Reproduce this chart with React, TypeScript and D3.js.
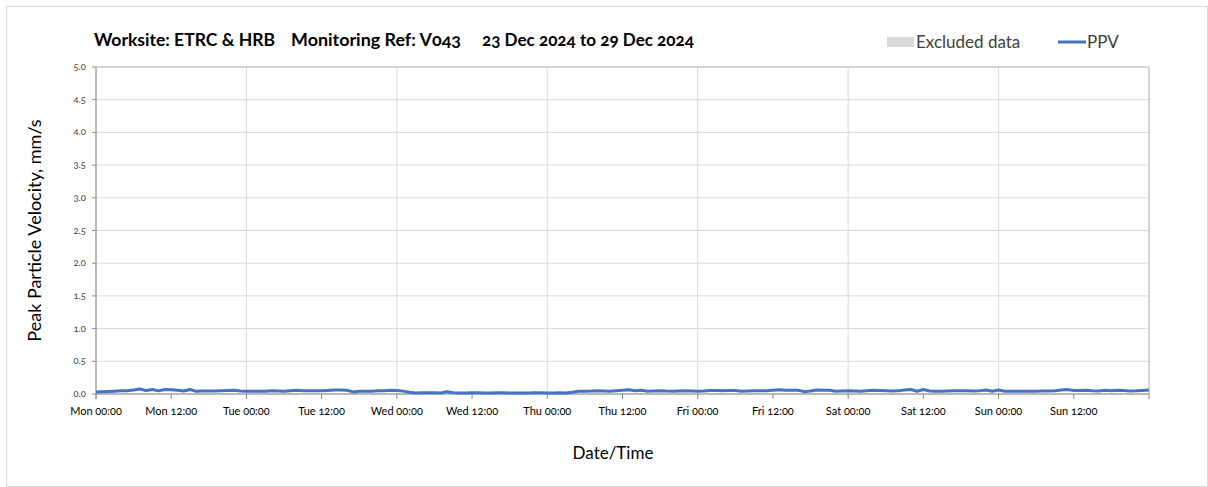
import React from 'react';
import * as d3 from 'd3';

// Hourly peak particle velocity (mm/s), Mon 23 Dec 2024 00:00 onwards
const monValues = [0.03, 0.035, 0.04, 0.043, 0.048, 0.051, 0.06, 0.076, 0.052, 0.068, 0.048, 0.07, 0.065, 0.056, 0.046, 0.068, 0.041, 0.046, 0.046, 0.045, 0.048, 0.053, 0.058, 0.045];
const tueValues = [0.043, 0.041, 0.041, 0.043, 0.051, 0.046, 0.041, 0.05, 0.056, 0.051, 0.051, 0.051, 0.051, 0.055, 0.061, 0.061, 0.058, 0.032, 0.041, 0.041, 0.043, 0.05, 0.051, 0.056];
const wedValues = [0.055, 0.044, 0.028, 0.016, 0.018, 0.019, 0.018, 0.016, 0.036, 0.021, 0.014, 0.016, 0.019, 0.018, 0.016, 0.016, 0.019, 0.019, 0.017, 0.015, 0.014, 0.016, 0.018, 0.019];
const thuValues = [0.016, 0.014, 0.018, 0.016, 0.028, 0.043, 0.043, 0.045, 0.051, 0.046, 0.043, 0.05, 0.056, 0.066, 0.051, 0.056, 0.043, 0.046, 0.048, 0.044, 0.043, 0.045, 0.048, 0.047];
const friValues = [0.043, 0.046, 0.052, 0.054, 0.048, 0.052, 0.054, 0.041, 0.046, 0.051, 0.051, 0.051, 0.058, 0.065, 0.057, 0.056, 0.056, 0.036, 0.045, 0.061, 0.058, 0.056, 0.043, 0.045];
const satValues = [0.048, 0.046, 0.043, 0.05, 0.056, 0.052, 0.048, 0.044, 0.048, 0.062, 0.068, 0.042, 0.068, 0.045, 0.042, 0.041, 0.046, 0.051, 0.05, 0.048, 0.044, 0.05, 0.06, 0.041];
const sunValues = [0.06, 0.043, 0.042, 0.041, 0.041, 0.042, 0.043, 0.045, 0.047, 0.05, 0.06, 0.067, 0.053, 0.052, 0.056, 0.048, 0.046, 0.056, 0.051, 0.058, 0.052, 0.044, 0.048, 0.055];
const endValue = [0.061];

const yTicks = [0, 0.5, 1, 1.5, 2, 2.5, 3, 3.5, 4, 4.5, 5];
const titleParts = ['Worksite: ETRC & HRB', 'Monitoring Ref: V043', '23 Dec 2024 to 29 Dec 2024'];
const legendLabels = ['Excluded data', 'PPV'];

const start = Date.UTC(2024, 11, 23, 0, 0);
const HOUR = 3600 * 1000;

const ppv = [...monValues, ...tueValues, ...wedValues, ...thuValues, ...friValues, ...satValues, ...sunValues, ...endValue]
  .map((v, i) => ({ t: new Date(start + i * HOUR), v }));

const W = 1208;
const H = 487;
const margin = { left: 96, right: 59, top: 67, bottom: 93 };
const font = "'Lato', 'Open Sans', sans-serif";

export default function App() {
  const x = d3.scaleUtc()
    .domain([new Date(start), new Date(start + 168 * HOUR)])
    .range([margin.left, W - margin.right]);
  const y = d3.scaleLinear().domain([0, 5]).range([H - margin.bottom, margin.top]);

  const dayTicks = d3.utcHour.every(24)!.range(new Date(start), new Date(start + 168 * HOUR + 1));
  const halfTicks = d3.utcHour.every(12)!.range(new Date(start), new Date(start + 168 * HOUR + 1));
  const fmt = d3.utcFormat('%a %H:%M');

  const line = d3.line<{ t: Date; v: number }>()
    .x(d => x(d.t))
    .y(d => y(d.v));

  const x0 = margin.left;
  const x1 = W - margin.right;
  const y0 = H - margin.bottom;
  const yTop = margin.top;

  return (
    <svg width={W} height={H} style={{ position: 'absolute', left: 0, top: 0, fontFamily: font, fontVariantNumeric: 'oldstyle-nums' }}>
      <rect x={0} y={0} width={W} height={H} fill="white" />
      <rect x={6.5} y={6.5} width={W - 7} height={H - 7} fill="none" stroke="#d9d9d9" />

      {/* title */}
      <g fontWeight="bold" fontSize={16.5} fill="#000">
        <text x={94} y={46} textLength={181} lengthAdjust="spacingAndGlyphs">{titleParts[0]}</text>
        <text x={291} y={46} textLength={170} lengthAdjust="spacingAndGlyphs">{titleParts[1]}</text>
        <text x={482} y={46} textLength={212} lengthAdjust="spacingAndGlyphs">{titleParts[2]}</text>
      </g>

      {/* legend */}
      <rect x={887} y={37} width={27} height={10} fill="#d9d9d9" />
      <text x={916} y={48} fontSize={17} fill="#404040">{legendLabels[0]}</text>
      <line x1={1058} x2={1086} y1={42} y2={42} stroke="#4472c4" strokeWidth={3} />
      <text x={1087} y={48} fontSize={17} fill="#404040">{legendLabels[1]}</text>

      {/* horizontal grid */}
      {yTicks.map(t => (
        <g key={t}>
          <line x1={x0} x2={x1} y1={y(t)} y2={y(t)} stroke="#d9d9d9" strokeWidth={1} />
          <line x1={x0 - 4} x2={x0} y1={y(t)} y2={y(t)} stroke="#868686" />
          <text x={x0 - 10} y={y(t) + 3} textAnchor="end" fontSize={9.5} fill="#404040">
            {d3.format('.1f')(t)}
          </text>
        </g>
      ))}

      {/* vertical day grid */}
      {dayTicks.map(d => (
        <line key={+d} x1={x(d)} x2={x(d)} y1={yTop} y2={y0} stroke="#d9d9d9" />
      ))}

      {/* axes */}
      <line x1={x0} x2={x0} y1={yTop} y2={y0 + 5} stroke="#868686" />
      <line x1={x0} x2={x1} y1={y0} y2={y0} stroke="#868686" />
      <line x1={x1} x2={x1} y1={yTop} y2={y0} stroke="#bfbfbf" />
      <line x1={x0} x2={x1} y1={yTop} y2={yTop} stroke="#bfbfbf" />
      {halfTicks.map(d => (
        <line key={+d} x1={x(d)} x2={x(d)} y1={y0} y2={y0 + 5} stroke="#868686" />
      ))}
      {halfTicks.slice(0, -1).map(d => (
        <text key={+d} x={x(d)} y={y0 + 21} textAnchor="middle" fontSize={11} fill="#000">
          {fmt(d)}
        </text>
      ))}

      {/* PPV line */}
      <path d={line(ppv) || ''} fill="none" stroke="#4472c4" strokeWidth={3} strokeLinejoin="round" />

      {/* axis titles */}
      <text
        transform={`translate(41, ${(yTop + y0) / 2}) rotate(-90)`}
        textAnchor="middle"
        fontSize={18}
        fill="#000"
      >
        Peak Particle Velocity, mm/s
      </text>
      <text x={613} y={459} textAnchor="middle" fontSize={17} fill="#000">Date/Time</text>
    </svg>
  );
}
